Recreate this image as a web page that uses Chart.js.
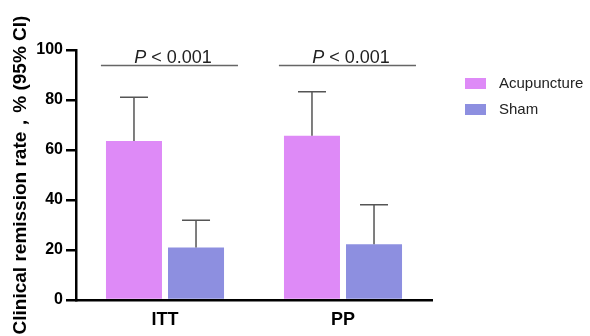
<!DOCTYPE html>
<html>
<head>
<meta charset="utf-8">
<script src="https://cdn.jsdelivr.net/npm/chart.js@4/dist/chart.umd.min.js"></script>
<style>
  html, body { margin: 0; padding: 0; background: #fff; }
  #wrap { width: 590px; height: 336px; position: relative; }
</style>
</head>
<body>
<div id="wrap"><canvas id="c" width="590" height="336"></canvas></div>
<script>
// ---- data ----
const categories = ['ITT', 'PP'];
const seriesNames = ['Acupuncture', 'Sham'];
const acupunctureRate = [63.6, 65.7];
const acupunctureUpperCI = [81.1, 83.3];
const shamRate = [21.0, 22.3];
const shamUpperCI = [31.9, 38.1];
const pLabels = ['P < 0.001', 'P < 0.001'];
const yTicks = [0, 20, 40, 60, 80, 100];
const yTitle = 'Clinical remission rate，% (95% CI)';

const colors = ['#DE8AF7', '#8D8FE0'];
const FONT = '"Liberation Sans", Arial, Helvetica, sans-serif';

const errorBarPlugin = {
  id: 'errorBars',
  afterDatasetsDraw(chart) {
    const ctx = chart.ctx;
    const y = chart.scales.y;
    const uppers = [acupunctureUpperCI, shamUpperCI];
    chart.data.datasets.forEach((ds, di) => {
      const meta = chart.getDatasetMeta(di);
      meta.data.forEach((bar, i) => {
        const top = y.getPixelForValue(ds.data[i]);
        const up = y.getPixelForValue(uppers[di][i]);
        ctx.save();
        ctx.strokeStyle = '#555';
        ctx.lineWidth = 1.5;
        ctx.beginPath();
        ctx.moveTo(bar.x, top);
        ctx.lineTo(bar.x, up);
        ctx.moveTo(bar.x - 14, up);
        ctx.lineTo(bar.x + 14, up);
        ctx.stroke();
        ctx.restore();
      });
    });
  }
};

const pValuePlugin = {
  id: 'pValues',
  afterDraw(chart) {
    const ctx = chart.ctx;
    const x = chart.scales.x;
    const y = chart.scales.y;
    const catW = (x.right - x.left) / categories.length;
    const lineY = y.getPixelForValue(93.8);
    categories.forEach((c, i) => {
      const cx = x.getPixelForValue(i);
      const x0 = cx - 0.36 * catW;
      const x1 = cx + 0.41 * catW;
      ctx.save();
      ctx.strokeStyle = '#666';
      ctx.lineWidth = 1.5;
      ctx.beginPath();
      ctx.moveTo(x0, lineY);
      ctx.lineTo(x1, lineY);
      ctx.stroke();
      const label = pLabels[i];
      const first = label.charAt(0);
      const rest = label.slice(1);
      ctx.fillStyle = '#222';
      ctx.textBaseline = 'alphabetic';
      ctx.font = 'italic 18px ' + FONT;
      const w1 = ctx.measureText(first).width;
      ctx.font = '18px ' + FONT;
      const w2 = ctx.measureText(rest).width;
      const tx = cx + 8 - (w1 + w2) / 2;
      const ty = lineY - 3;
      ctx.font = 'italic 18px ' + FONT;
      ctx.textAlign = 'left';
      ctx.fillText(first, tx, ty);
      ctx.font = '18px ' + FONT;
      ctx.fillText(rest, tx + w1, ty);
      ctx.restore();
    });
  }
};

const legendPlugin = {
  id: 'customLegend',
  afterDraw(chart) {
    const ctx = chart.ctx;
    ctx.save();
    chart.data.datasets.forEach((ds, i) => {
      const bx = 465, by = 78 + i * 26;
      ctx.fillStyle = ds.backgroundColor;
      ctx.fillRect(bx, by, 21, 11);
      ctx.fillStyle = '#222';
      ctx.font = '15px ' + FONT;
      ctx.textAlign = 'left';
      ctx.textBaseline = 'middle';
      ctx.fillText(ds.label, 499, by + 6);
    });
    ctx.restore();
  }
};

new Chart(document.getElementById('c'), {
  type: 'bar',
  data: {
    labels: categories,
    datasets: [
      { label: seriesNames[0], data: acupunctureRate, backgroundColor: colors[0], borderWidth: 0 },
      { label: seriesNames[1], data: shamRate, backgroundColor: colors[1], borderWidth: 0 }
    ]
  },
  options: {
    responsive: false,
    animation: false,
    devicePixelRatio: 1,
    layout: { padding: { left: 0, right: 158, top: 50, bottom: 0 } },
    datasets: { bar: { categoryPercentage: 0.697, barPercentage: 0.903 } },
    plugins: { legend: { display: false }, tooltip: { enabled: false } },
    scales: {
      x: {
        grid: { display: false, drawTicks: false },
        border: { display: true, color: '#000', width: 2.5 },
        ticks: { color: '#000', font: { family: FONT, size: 18, weight: 'bold' }, padding: 9 },
        afterFit(s) { s.height = 36; }
      },
      y: {
        min: 0, max: 100,
        afterBuildTicks(s) { s.ticks = yTicks.map(v => ({ value: v })); },
        grid: { display: true, drawOnChartArea: false, drawTicks: true, tickLength: 10, color: '#000', lineWidth: 2.5 },
        border: { display: true, color: '#000', width: 2.5 },
        ticks: { color: '#000', font: { family: FONT, size: 16, weight: 'bold' }, padding: 3 },
        title: { display: true, text: yTitle, color: '#000', font: { family: FONT, size: 19, weight: 'bold', lineHeight: 1.2 }, padding: { top: 9, bottom: 0 } },
        afterFit(s) { s.width = 76; }
      }
    }
  },
  plugins: [errorBarPlugin, pValuePlugin, legendPlugin]
});
</script>
</body>
</html>
